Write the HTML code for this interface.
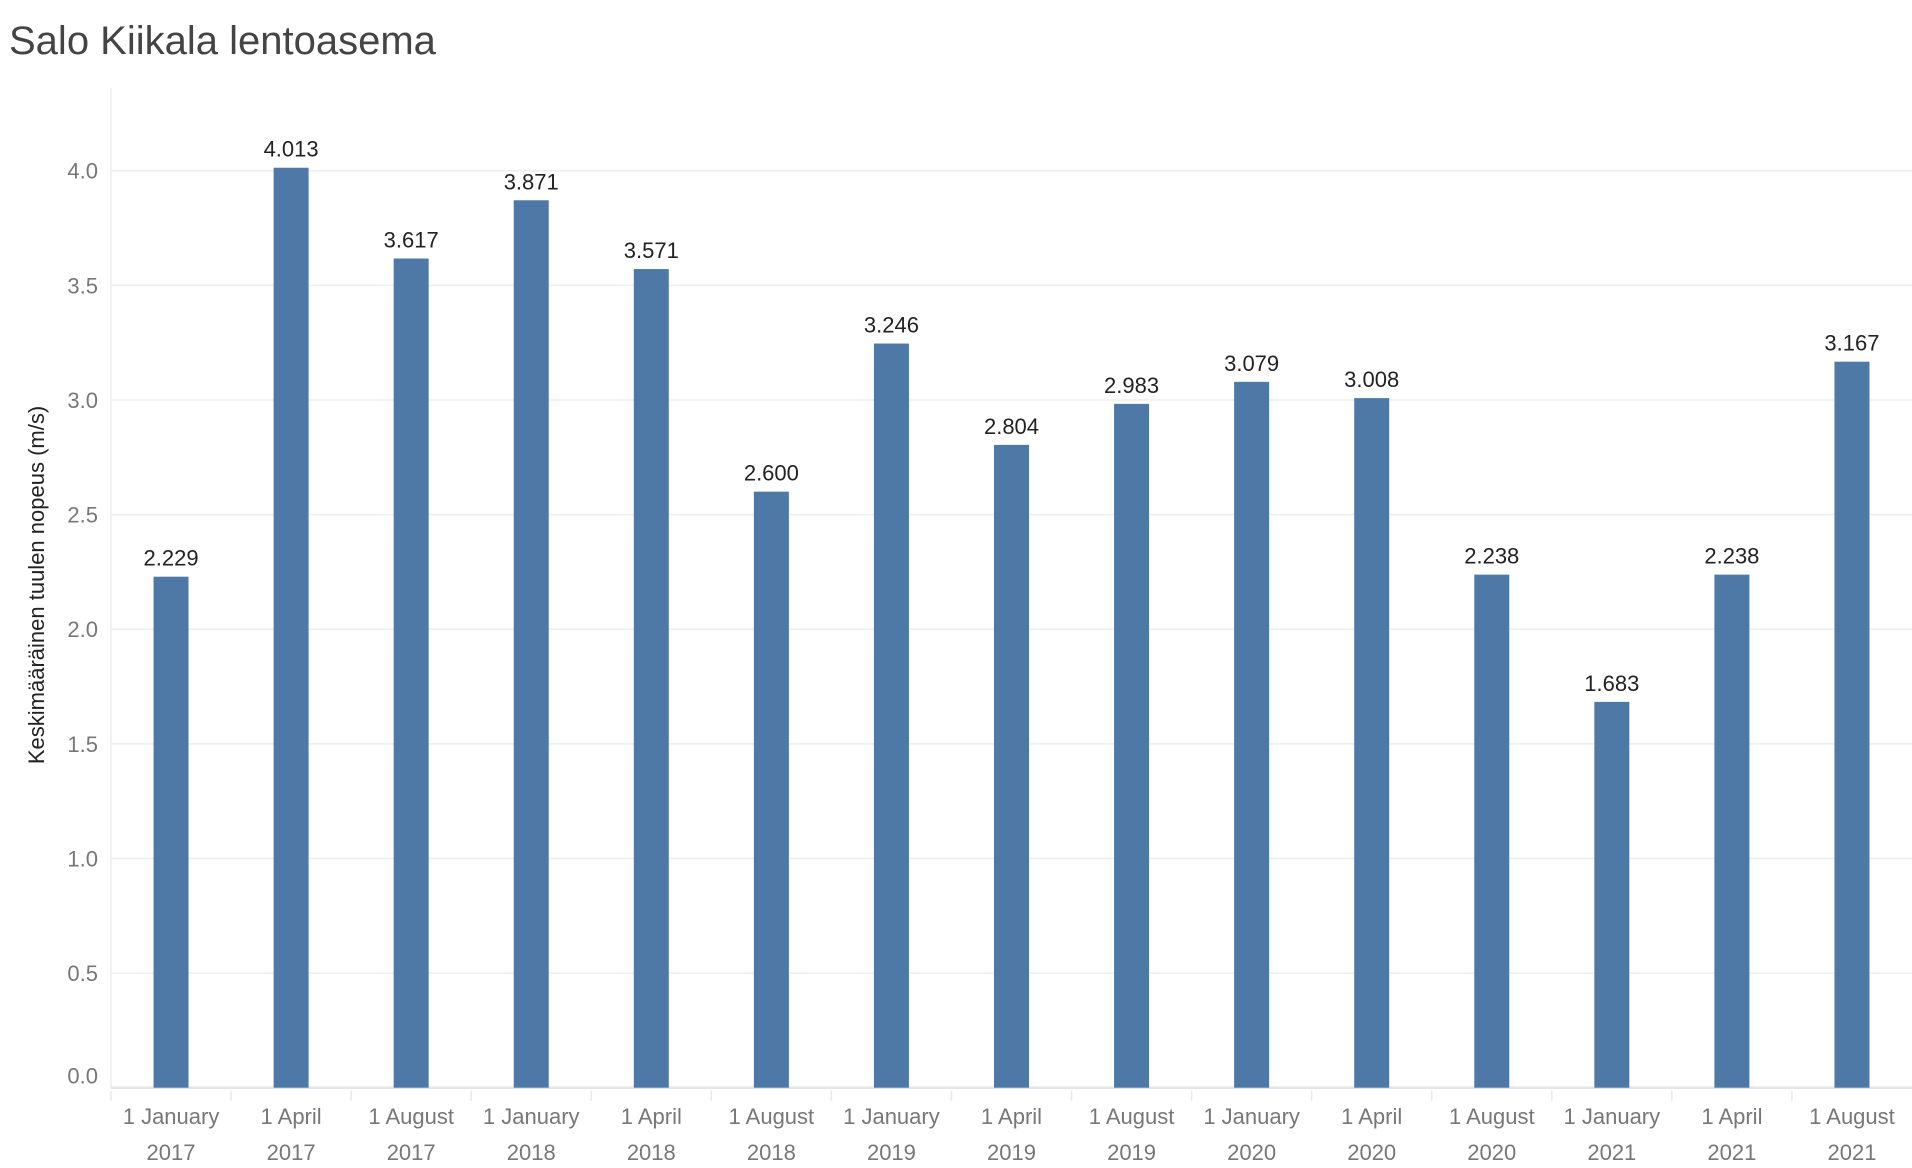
<!DOCTYPE html>
<html><head><meta charset="utf-8"><style>
html,body{margin:0;padding:0;background:#fff;}
svg{display:block;font-family:"Liberation Sans","DejaVu Sans",sans-serif;}
</style></head><body>
<svg id="chart" width="1912" height="1168" viewBox="0 0 1912 1168">
<text x="9" y="54" font-size="40" fill="#444" font-weight="300">Salo Kiikala lentoasema</text>
<text transform="translate(44,585) rotate(-90)" text-anchor="middle" font-size="22" fill="#222">Keskimääräinen tuulen nopeus (m/s)</text>
<g id="grid"></g><g id="bars"></g><g id="labels"></g><g id="xaxis"></g><g id="yaxis"></g>
</svg>
<script>
const categories=["1 January|2017","1 April|2017","1 August|2017","1 January|2018","1 April|2018","1 August|2018","1 January|2019","1 April|2019","1 August|2019","1 January|2020","1 April|2020","1 August|2020","1 January|2021","1 April|2021","1 August|2021"];
const values=[2.229,4.013,3.617,3.871,3.571,2.600,3.246,2.804,2.983,3.079,3.008,2.238,1.683,2.238,3.167];
const yTicks=[0,0.5,1,1.5,2,2.5,3,3.5,4];
const NS="http://www.w3.org/2000/svg";
const L=111,R=1912,T=88,Y0=1087.7,Y4=170.7;
const colW=(R-L)/categories.length;
function y(v){return Y0+(Y4-Y0)*v/4;}
function x(i){return L+colW*(i+0.5);}
function mk(tag,attrs,parent){const e=document.createElementNS(NS,tag);for(const k in attrs)e.setAttribute(k,attrs[k]);document.getElementById(parent).appendChild(e);return e;}
mk('line',{x1:L,x2:L,y1:T,y2:Y0,stroke:'#eee','stroke-width':1.5},'grid');
yTicks.forEach(t=>{
  const g=mk('line',{x1:L,x2:R,y1:y(t),y2:y(t),stroke:t===0?'#e4e4e4':'#eeeeee','stroke-width':t===0?2.5:1.5},'grid');
  
  
  const tx=mk('text',{x:98,y:y(t)+(t===0?-4:8),'text-anchor':'end','font-size':22,fill:'#777'},'yaxis');
  tx.textContent=t.toFixed(1);
  
  
});
values.forEach((v,i)=>{
  const bw=35;
  const b=mk('rect',{x:x(i)-bw/2,y:y(v),width:bw,height:Y0-y(v),fill:'#4e79a7'},'bars');
  
  
  const lb=mk('text',{x:x(i),y:y(v)-11,'text-anchor':'middle','font-size':22,fill:'#222'},'labels');
  lb.textContent=v.toFixed(3);
  
  
  const tk=mk('line',{x1:L+colW*i,x2:L+colW*i,y1:Y0+3,y2:Y0+13,stroke:'#e8e8e8','stroke-width':1.5},'xaxis');
  
  
  const parts=categories[i].split('|');
  parts.forEach((p,j)=>{
    const t=mk('text',{x:x(i),y:1124+j*36,'text-anchor':'middle','font-size':22,fill:'#777'},'xaxis');
    t.textContent=p;
    
    
  });
});
</script>
</body></html>
